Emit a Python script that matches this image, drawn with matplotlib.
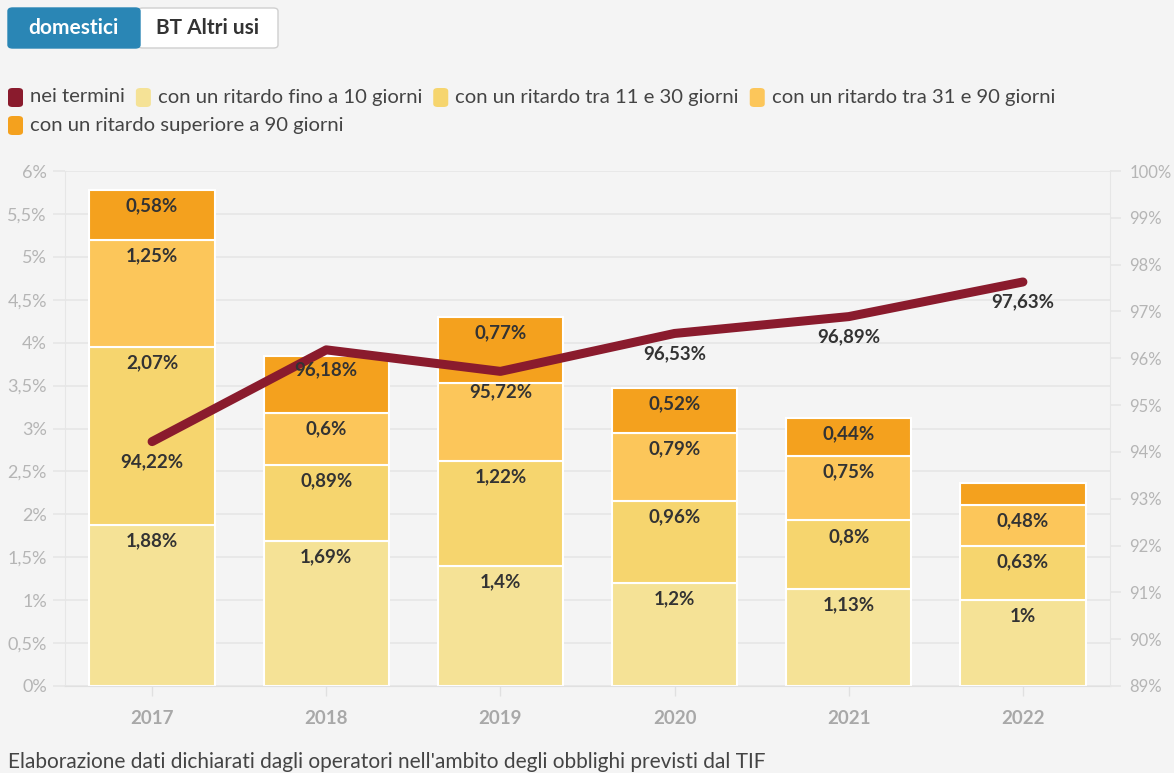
import matplotlib
matplotlib.use("Agg")
import matplotlib.pyplot as plt
from matplotlib.patches import FancyBboxPatch
from matplotlib.ticker import FuncFormatter

plt.rcParams['font.family'] = ['Lato', 'DejaVu Sans']

# ----------------------------
# Data
# ----------------------------

anni = ["2017", "2018", "2019", "2020", "2021", "2022"]

fino_10 = [1.88, 1.69, 1.40, 1.20, 1.13, 1.00]
tra_11_30 = [2.07, 0.89, 1.22, 0.96, 0.80, 0.63]
tra_31_90 = [1.25, 0.60, 0.91, 0.79, 0.75, 0.48]
oltre_90 = [0.58, 0.66, 0.77, 0.52, 0.44, 0.25]

nei_termini = [94.22, 96.18, 95.72, 96.53, 96.89, 97.63]

# labels hidden in the original (covered or too small)
nascosti = {(1, 3), (2, 2), (5, 3)}

serie = [
    ("con un ritardo fino a 10 giorni", fino_10, "#F5E296"),
    ("con un ritardo tra 11 e 30 giorni", tra_11_30, "#F6D56E"),
    ("con un ritardo tra 31 e 90 giorni", tra_31_90, "#FCC65A"),
    ("con un ritardo superiore a 90 giorni", oltre_90, "#F4A11E"),
]
colore_linea = "#8A1B2D"

def fmt(v, dec=2):
    s = f"{v:.{dec}f}".rstrip("0").rstrip(".")
    return s.replace(".", ",") + "%"

# ----------------------------
# Figure
# ----------------------------

W, H = 1174, 773
bg = "#F4F4F4"
fig = plt.figure(figsize=(W / 100, H / 100), dpi=100, facecolor=bg)

ax = fig.add_axes([65 / W, 1 - 686 / H, (1110 - 65) / W, (686 - 171) / H])
ax.set_facecolor(bg)
ax2 = ax.twinx()
ax2.patch.set_visible(False)

x = list(range(len(anni)))
bottom = [0.0] * len(anni)
for j, (nome, vals, col) in enumerate(serie):
    ax.bar(x, vals, width=0.72, bottom=bottom, color=col,
           edgecolor="white", linewidth=1.5, zorder=2)
    for i, v in enumerate(vals):
        top = bottom[i] + v
        if (i, j) not in nascosti:
            ax.annotate(fmt(v), (i, top), xytext=(0, -11.5),
                        textcoords="offset points", ha="center", va="center",
                        fontsize=13.5, fontweight="bold", color="#333333", zorder=4)
    bottom = [b + v for b, v in zip(bottom, vals)]

ax2.plot(x, nei_termini, color=colore_linea, linewidth=6.5,
         solid_capstyle="round", solid_joinstyle="round", zorder=5)
for i, v in enumerate(nei_termini):
    ax2.annotate(fmt(v), (i, v), xytext=(0, -14.5), textcoords="offset points",
                 ha="center", va="center", fontsize=13.5, fontweight="bold",
                 color="#333333", zorder=6)

# axes
ax.set_xlim(-0.5, len(anni) - 0.5)
ax.set_ylim(0, 6)
ax.set_yticks([k * 0.5 for k in range(13)])
ax.yaxis.set_major_formatter(FuncFormatter(lambda v, p: fmt(v, 1)))
ax2.set_ylim(89, 100)
ax2.set_yticks(range(89, 101))
ax2.yaxis.set_major_formatter(FuncFormatter(lambda v, p: f"{int(v)}%"))

ax.grid(axis="y", color="#E6E6E6", linewidth=1.2, zorder=0)
ax.set_axisbelow(True)

for a in (ax, ax2):
    for s in a.spines.values():
        s.set_visible(False)
ax.spines["left"].set_visible(True)
ax.spines["left"].set_color("#E6E6E6")
ax2.spines["right"].set_visible(True)
ax2.spines["right"].set_color("#E6E6E6")
ax.spines["bottom"].set_visible(True)
ax.spines["bottom"].set_color("#E0E0E0")

ax.tick_params(axis="y", length=9, width=1.2, color="#E6E6E6",
               labelsize=13, labelcolor="#B5B5B5", pad=4)
ax2.tick_params(axis="y", length=8, width=1.2, color="#E6E6E6",
                labelsize=12, labelcolor="#B5B5B5", pad=6)
ax.set_xticks(x)
ax.set_xticklabels(anni, fontweight="bold")
ax.tick_params(axis="x", length=7, width=1, color="#E0E0E0",
               labelsize=13.5, labelcolor="#A8A8A8", pad=10)

# ----------------------------
# Buttons
# ----------------------------

def px_box(x0, y0, w, h, **kw):
    p = FancyBboxPatch((x0 / W, 1 - (y0 + h) / H), w / W, h / H,
                       boxstyle="round,pad=0,rounding_size=0.004",
                       transform=fig.transFigure, **kw)
    fig.patches.append(p)

px_box(138, 8, 140, 40, facecolor="white", edgecolor="#CFCFCF", linewidth=1)
px_box(8, 8, 132, 40, facecolor="#2A86B5", edgecolor="#2A86B5", linewidth=1)
fig.text(73 / W, 1 - 28 / H, "domestici", ha="center", va="center",
         fontsize=15, fontweight="bold", color="white")
fig.text(208 / W, 1 - 28 / H, "BT Altri usi", ha="center", va="center",
         fontsize=15, fontweight="bold", color="#333333")

# ----------------------------
# Legend
# ----------------------------

voci = [("nei termini", colore_linea)] + [(n, c) for n, _, c in serie]
righe = [0, 0, 0, 0, 1]
righe_y = [97, 125]

fig.canvas.draw()
r = fig.canvas.get_renderer()
cur = [8, 8]
for (nome, col), riga in zip(voci, righe):
    x0 = cur[riga]
    yc = righe_y[riga]
    px_box(x0, yc - 9, 15, 19, facecolor=col, edgecolor=col, linewidth=0)
    t = fig.text((x0 + 22) / W, 1 - yc / H, nome, ha="left", va="center",
                 fontsize=14.6, color="#444444")
    bb = t.get_window_extent(renderer=r)
    cur[riga] = bb.x1 + 11

# caption
fig.text(8 / W, 1 - 762 / H,
         "Elaborazione dati dichiarati dagli operatori nell'ambito degli obblighi previsti dal TIF",
         ha="left", va="center", fontsize=15, color="#444444")

fig.savefig("out.png", dpi=100, facecolor=bg)
